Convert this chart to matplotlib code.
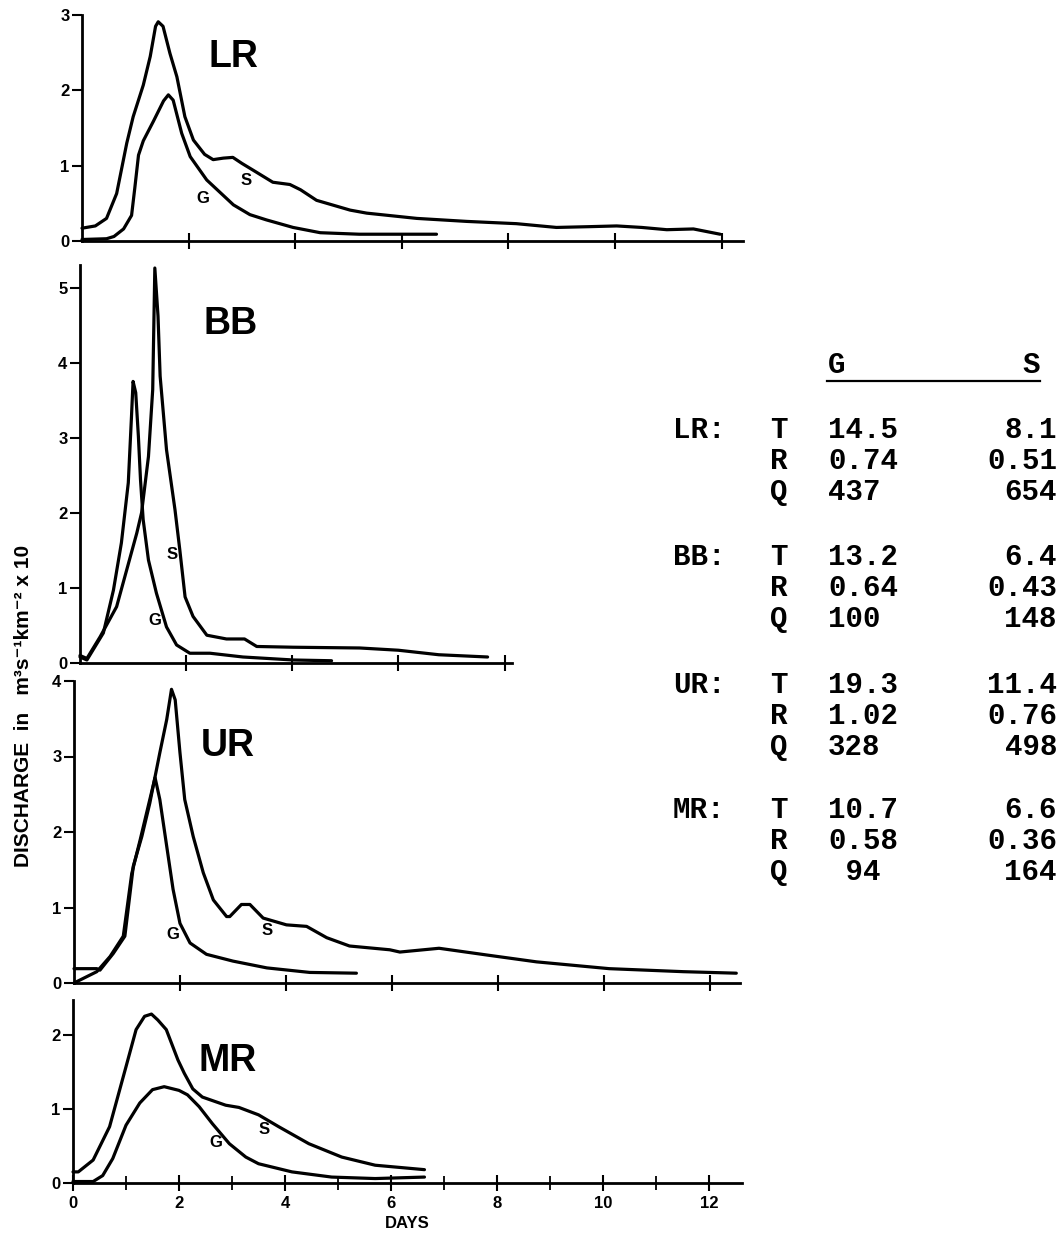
import matplotlib
matplotlib.use("Agg")
import matplotlib.pyplot as plt
from matplotlib.lines import Line2D

# ---------------------------------------------------------------------------
# Hydrograph data (days, discharge in m3 s-1 km-2 x 10) for four basins.
# G and S curves for each basin.
# ---------------------------------------------------------------------------
lr_g_days = [0, 0.46, 0.6, 0.78, 0.93, 0.99, 1.06, 1.15, 1.34, 1.53, 1.62, 1.71,
             1.87, 2.03, 2.34, 2.84, 3.15, 3.46, 3.96, 4.47, 5.2, 5.65, 6.65]
lr_g_vals = [0.02, 0.03, 0.06, 0.16, 0.34, 0.7, 1.14, 1.33, 1.59, 1.86, 1.94, 1.87,
             1.43, 1.12, 0.81, 0.48, 0.35, 0.28, 0.18, 0.11, 0.09, 0.09, 0.09]
lr_s_days = [0, 0.25, 0.46, 0.65, 0.84, 0.96, 1.15, 1.28, 1.38, 1.43, 1.52, 1.65,
             1.78, 1.93, 2.09, 2.3, 2.46, 2.65, 2.83, 3.0, 3.21, 3.58, 3.9, 4.1,
             4.4, 5.03, 5.34, 6.28, 7.22, 8.15, 8.9, 9.5, 10.03, 10.5, 10.97,
             11.47, 11.97]
lr_s_vals = [0.17, 0.2, 0.3, 0.63, 1.3, 1.65, 2.07, 2.45, 2.85, 2.91, 2.85, 2.49,
             2.18, 1.65, 1.34, 1.15, 1.08, 1.1, 1.11, 1.03, 0.94, 0.78, 0.75, 0.68,
             0.54, 0.41, 0.37, 0.3, 0.26, 0.23, 0.18, 0.19, 0.2, 0.18, 0.15,
             0.16, 0.09]

bb_g_days = [0, 0.13, 0.44, 0.63, 0.78, 0.91, 0.97, 1.0, 1.05, 1.1, 1.14, 1.19,
             1.29, 1.44, 1.63, 1.82, 2.07, 2.45, 3.07, 4.02, 4.74]
bb_g_vals = [0.08, 0.04, 0.4, 0.97, 1.6, 2.4, 3.28, 3.75, 3.6, 3.02, 2.44, 1.91,
             1.37, 0.93, 0.48, 0.24, 0.13, 0.13, 0.08, 0.04, 0.03]
bb_s_days = [0, 0.13, 0.38, 0.69, 0.88, 1.07, 1.16, 1.29, 1.37, 1.41, 1.47, 1.51,
             1.63, 1.79, 1.88, 1.98, 2.13, 2.39, 2.76, 3.1, 3.33, 4.02, 5.27,
             6.0, 6.76, 7.68]
bb_s_vals = [0.1, 0.06, 0.35, 0.75, 1.24, 1.73, 2.0, 2.75, 3.64, 5.26, 4.62, 3.82,
             2.84, 2.04, 1.51, 0.88, 0.62, 0.37, 0.32, 0.32, 0.22, 0.21, 0.2,
             0.17, 0.11, 0.08]

ur_g_days = [0, 0.43, 0.68, 0.93, 1.09, 1.25, 1.4, 1.53, 1.62, 1.75, 1.87, 2.0,
             2.19, 2.5, 3.0, 3.64, 4.45, 5.33]
ur_g_vals = [0.0, 0.15, 0.35, 0.62, 1.45, 1.9, 2.34, 2.72, 2.43, 1.81, 1.24, 0.79,
             0.53, 0.38, 0.29, 0.2, 0.14, 0.13]
ur_s_days = [0, 0.43, 0.49, 0.74, 0.96, 1.12, 1.28, 1.43, 1.62, 1.75, 1.84, 1.91,
             2.0, 2.09, 2.25, 2.44, 2.63, 2.88, 2.94, 3.16, 3.32, 3.57, 4.01, 4.39,
             4.77, 5.2, 5.96, 6.15, 6.89, 7.8, 8.73, 10.1, 11.5, 12.5]
ur_s_vals = [0.19, 0.19, 0.17, 0.39, 0.62, 1.55, 1.94, 2.38, 3.05, 3.49, 3.89, 3.75,
             3.05, 2.43, 1.94, 1.46, 1.1, 0.88, 0.88, 1.04, 1.04, 0.86, 0.77, 0.75,
             0.6, 0.49, 0.44, 0.41, 0.46, 0.37, 0.28, 0.19, 0.15, 0.13]

mr_g_days = [0, 0.38, 0.56, 0.75, 1.0, 1.26, 1.5, 1.72, 2.0, 2.16, 2.38, 2.63,
             2.95, 3.26, 3.5, 4.13, 4.88, 5.7, 6.63]
mr_g_vals = [0.02, 0.02, 0.1, 0.33, 0.78, 1.08, 1.26, 1.3, 1.25, 1.19, 1.03, 0.8,
             0.53, 0.35, 0.26, 0.15, 0.08, 0.06, 0.08]
mr_s_days = [0, 0.1, 0.38, 0.69, 1.0, 1.19, 1.35, 1.48, 1.6, 1.76, 1.98, 2.1,
             2.26, 2.44, 2.88, 3.13, 3.5, 3.88, 4.45, 5.07, 5.7, 6.63]
mr_s_vals = [0.15, 0.15, 0.31, 0.76, 1.57, 2.07, 2.25, 2.28, 2.2, 2.07, 1.66, 1.48,
             1.27, 1.16, 1.05, 1.02, 0.92, 0.76, 0.53, 0.35, 0.24, 0.18]

basins = ["LR", "BB", "UR", "MR"]
params = ["T", "R", "Q"]
g_stats = {"LR": ["14.5", "0.74", "437"], "BB": ["13.2", "0.64", "100"],
           "UR": ["19.3", "1.02", "328"], "MR": ["10.7", "0.58", " 94"]}
s_stats = {"LR": ["8.1", "0.51", "654"], "BB": ["6.4", "0.43", "148"],
           "UR": ["11.4", "0.76", "498"], "MR": ["6.6", "0.36", "164"]}

day_ticks = [0, 2, 4, 6, 8, 10, 12]
ylabel = "DISCHARGE  in   m\u00b3s\u207b\u00b9km\u207b\u00b2 x 10"

# ---------------------------------------------------------------------------
W, H = 1064, 1233
plt.rcParams['font.family'] = ['Liberation Sans', 'DejaVu Sans']
plt.rcParams['font.weight'] = 'bold'

fig = plt.figure(figsize=(W / 100, H / 100), dpi=100)
fig.patch.set_facecolor("white")


def fx(px):
    return px / W


def fy(py):
    return 1 - py / H


# panel layout in pixels: left, right, baseline (y=0), top ; plus axis ranges
layout = {
    "LR": dict(box=(82, 743, 241, 15), xmax=12.4, ymax=3.0, yt=[0, 1, 2, 3],
               xt=[2, 4, 6, 8, 10, 12], lab=(2.85, 2.44), g=(2.27, 0.57), s=(3.08, 0.8)),
    "BB": dict(box=(80, 512, 663, 265), xmax=8.14, ymax=5.3, yt=[0, 1, 2, 3, 4, 5],
               xt=[2, 4, 6, 8], lab=(2.84, 4.52), g=(1.41, 0.56), s=(1.73, 1.44)),
    "UR": dict(box=(74, 740, 983, 681), xmax=12.57, ymax=4.0, yt=[0, 1, 2, 3, 4],
               xt=[2, 4, 6, 8, 10, 12], lab=(2.9, 3.14), g=(1.87, 0.64), s=(3.64, 0.70)),
    "MR": dict(box=(73, 742, 1183, 1000), xmax=12.62, ymax=2.47, yt=[0, 1, 2],
               xt=day_ticks, lab=(2.92, 1.65), g=(2.7, 0.54), s=(3.6, 0.72)),
}
series = {
    "LR": (lr_g_days, lr_g_vals, lr_s_days, lr_s_vals),
    "BB": (bb_g_days, bb_g_vals, bb_s_days, bb_s_vals),
    "UR": (ur_g_days, ur_g_vals, ur_s_days, ur_s_vals),
    "MR": (mr_g_days, mr_g_vals, mr_s_days, mr_s_vals),
}

LW = 2.3
for name in basins:
    cfg = layout[name]
    left, right, base, top = cfg["box"]
    ax = fig.add_axes([fx(left), fy(base), (right - left) / W, (base - top) / H])
    gd, gv, sd, sv = series[name]
    ax.plot(gd, gv, color="black", lw=LW, solid_capstyle="round",
            solid_joinstyle="round", clip_on=False)
    ax.plot(sd, sv, color="black", lw=LW, solid_capstyle="round",
            solid_joinstyle="round", clip_on=False)
    ax.set_xlim(0, cfg["xmax"])
    ax.set_ylim(0, cfg["ymax"])
    for sp in ("top", "right"):
        ax.spines[sp].set_visible(False)
    for sp in ("left", "bottom"):
        ax.spines[sp].set_linewidth(2.0)
    ax.set_yticks(cfg["yt"])
    ax.set_yticklabels([str(v) for v in cfg["yt"]])
    ax.tick_params(axis="y", direction="out", length=7, width=1.5, pad=2,
                   labelsize=12)
    ax.set_xticks(cfg["xt"])
    if name == "MR":
        ax.set_xticks([1, 3, 5, 7, 9, 11], minor=True)
        ax.set_xticklabels([str(v) for v in cfg["xt"]])
        ax.tick_params(axis="x", which="major", direction="inout", length=12,
                       width=1.5, pad=3, labelsize=12)
        ax.tick_params(axis="x", which="minor", direction="inout", length=10,
                       width=1.3)
        ax.set_xlabel("DAYS", fontsize=12, fontweight="bold", labelpad=4)
    else:
        ax.set_xticklabels([])
        ax.tick_params(axis="x", direction="inout", length=12, width=1.5)
    ax.patch.set_alpha(0)
    ax.text(*cfg["lab"], name, fontsize=27, fontweight="bold", ha="center",
            va="center")
    ax.text(*cfg["g"], "G", fontsize=12, fontweight="bold", ha="center", va="center")
    ax.text(*cfg["s"], "S", fontsize=12, fontweight="bold", ha="center", va="center")

fig.text(fx(24), fy(706), ylabel, rotation=90, ha="center", va="center",
         fontsize=15, fontweight="bold")

# ---------------------------------------------------------------------------
# summary table of the two hydrographs
mono = dict(family="Liberation Mono", fontsize=21, fontweight="bold", va="center")
fig.text(fx(828), fy(365), "G", ha="left", **mono)
fig.text(fx(1040), fy(365), "S", ha="right", **mono)
fig.add_artist(Line2D([fx(827), fx(1040)], [fy(381), fy(381)], color="black",
                      lw=1.6, transform=fig.transFigure))

group_y = {"LR": 430, "BB": 557, "UR": 685, "MR": 810}
row_step = 31
for name in basins:
    y0 = group_y[name]
    fig.text(fx(673), fy(y0), name + ":", ha="left", **mono)
    for i, p in enumerate(params):
        y = y0 + i * row_step
        fig.text(fx(770), fy(y), p, ha="left", **mono)
        fig.text(fx(828), fy(y), g_stats[name][i], ha="left", **mono)
        fig.text(fx(1057), fy(y), s_stats[name][i], ha="right", **mono)

fig.savefig("out.png", dpi=100, facecolor="white")
